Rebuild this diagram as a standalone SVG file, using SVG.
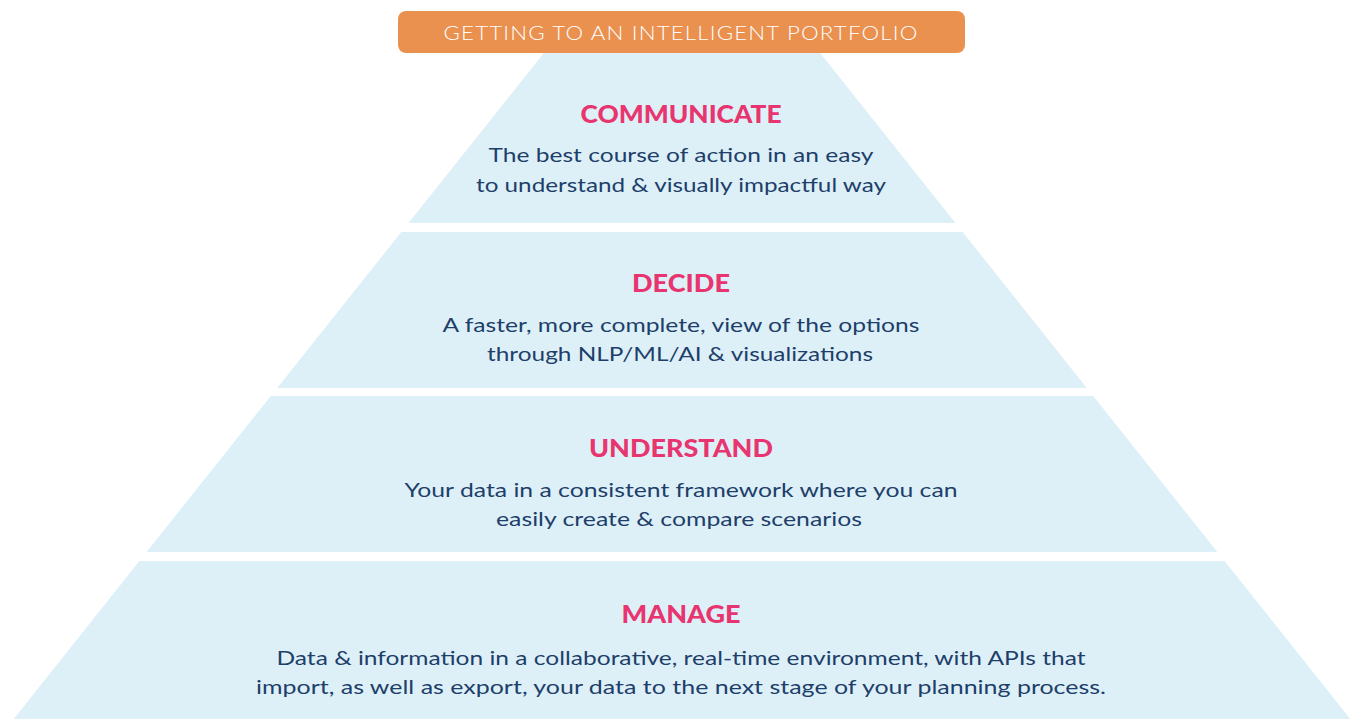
<svg xmlns="http://www.w3.org/2000/svg" width="1355" height="719" viewBox="0 0 1355 719">
<style>
.band{fill:#ddf0f8}
.title{font-family:Lato,"Liberation Sans",sans-serif;font-weight:900;font-size:25px;fill:#e8356f;text-anchor:middle}
.body{font-family:Lato,"Liberation Sans",sans-serif;font-size:20px;fill:#1e3f6a;text-anchor:middle}
.banner{font-family:Lato,"Liberation Sans",sans-serif;font-weight:300;font-size:19px;fill:#ffffff;text-anchor:middle;letter-spacing:1px}
</style>
<rect width="1355" height="719" fill="#ffffff"/>
<g id="communicate">
<polygon class="band" points="544.6,52 819.4,52 955.5,223 408.5,223"/>
<text class="title" x="681" y="123" textLength="201" lengthAdjust="spacingAndGlyphs">COMMUNICATE</text>
<text class="body" x="681" y="162" textLength="385" lengthAdjust="spacingAndGlyphs">The best course of action in an easy</text>
<text class="body" x="681" y="192" textLength="410" lengthAdjust="spacingAndGlyphs">to understand &amp; visually impactful way</text>
</g>
<g id="decide">
<polygon class="band" points="401.3,232 962.7,232 1086.8,388 277.2,388"/>
<text class="title" x="681" y="292" textLength="98" lengthAdjust="spacingAndGlyphs">DECIDE</text>
<text class="body" x="681" y="332" textLength="477" lengthAdjust="spacingAndGlyphs">A faster, more complete, view of the options</text>
<text class="body" x="680" y="361" textLength="386" lengthAdjust="spacingAndGlyphs">through NLP/ML/AI &amp; visualizations</text>
</g>
<g id="understand">
<polygon class="band" points="270.8,396 1093.2,396 1217.4,552 146.6,552"/>
<text class="title" x="681" y="457" textLength="184" lengthAdjust="spacingAndGlyphs">UNDERSTAND</text>
<text class="body" x="681" y="497" textLength="553" lengthAdjust="spacingAndGlyphs">Your data in a consistent framework where you can</text>
<text class="body" x="679" y="526" textLength="366" lengthAdjust="spacingAndGlyphs">easily create &amp; compare scenarios</text>
</g>
<g id="manage">
<polygon class="band" points="139.4,561 1224.6,561 1350.3,719 13.7,719"/>
<text class="title" x="681" y="623" textLength="119" lengthAdjust="spacingAndGlyphs">MANAGE</text>
<text class="body" x="681" y="665" textLength="809" lengthAdjust="spacingAndGlyphs">Data &amp; information in a collaborative, real-time environment, with APIs that</text>
<text class="body" x="681" y="694" textLength="850" lengthAdjust="spacingAndGlyphs">import, as well as export, your data to the next stage of your planning process.</text>
</g>
<g id="banner">
<rect x="398" y="11" width="567" height="42" rx="8" fill="#ea9150"/>
<text class="banner" x="681" y="40" textLength="475" lengthAdjust="spacingAndGlyphs">GETTING TO AN INTELLIGENT PORTFOLIO</text>
</g>
<g id="connectors"></g>
</svg>
